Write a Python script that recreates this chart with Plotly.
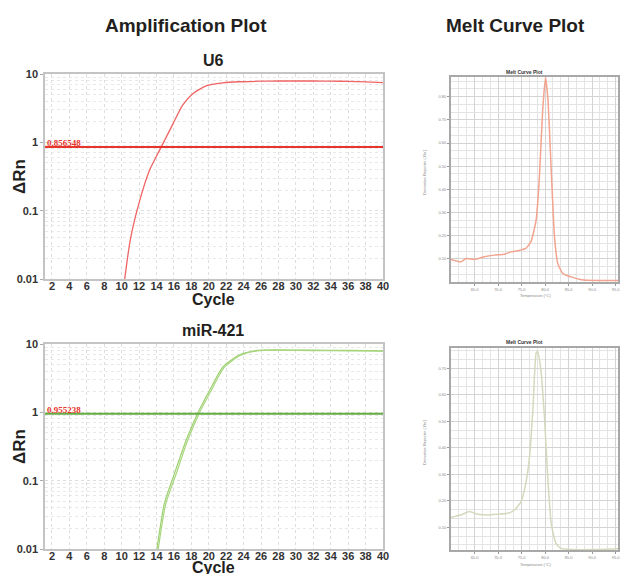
import math
import plotly.graph_objects as go

W, H = 621, 574

# ---------------- data ----------------
u6_cycle = [10.35, 11.0, 12.07, 13.2, 14.55, 15.9, 17.0, 18.2, 19.7, 21.6, 23.5, 26, 28, 30, 32, 34, 36, 38, 40]
u6_rn = [0.01, 0.038, 0.14, 0.39, 0.857, 1.88, 3.5, 5.2, 6.7, 7.4, 7.7, 7.85, 7.9, 7.9, 7.9, 7.85, 7.8, 7.65, 7.5]
u6_threshold = 0.856548

mir_cycle_a = [14.05, 14.9, 16.07, 17.4, 18.7, 20.1, 21.6, 23.5, 25.4, 27.7, 30, 34, 38, 40]
mir_rn_a = [0.01, 0.046, 0.128, 0.39, 0.955, 2.1, 4.6, 6.9, 8.0, 8.2, 8.15, 8.1, 8.0, 7.95]
mir_cycle_b = [14.2, 15.05, 16.25, 17.55, 18.85, 20.25, 21.75, 23.6, 25.5, 27.8, 30, 34, 38, 40]
mir_rn_b = [0.01, 0.045, 0.125, 0.38, 0.94, 2.05, 4.5, 6.8, 7.9, 8.1, 8.05, 8.0, 7.9, 7.85]
mir_threshold = 0.955238

cycle_ticks = list(range(2, 41, 2))
rn_ticks = [0.01, 0.1, 1, 10]
rn_tick_labels = ["0.01", "0.1", "1", "10"]

melt_u6_temp = [60, 62.1, 63.2, 65, 67.1, 69.2, 71.3, 72.8, 74.2, 75.9, 77, 78.1, 78.8, 79.5, 80.1,
                80.6, 81.3, 82, 82.7, 83.8, 85.5, 87.7, 91.2, 95.5]
melt_u6_val = [0.97, 0.87, 1.01, 0.97, 1.09, 1.16, 1.2, 1.3, 1.35, 1.45, 1.74, 2.68, 4.57, 7.46, 8.84,
               7.9, 4.86, 1.96, 0.8, 0.36, 0.22, 0.1, 0.07, 0.07]
melt_mir_temp = [60, 62.1, 63.9, 65.7, 67.8, 69.9, 72.1, 73.5, 74.9, 75.9, 76.7, 77.4, 78.1, 78.4, 79.1,
                 79.9, 80.6, 81.3, 82.3, 83.4, 85.5, 90.5, 95.5]
melt_mir_val = [1.37, 1.46, 1.59, 1.49, 1.46, 1.49, 1.53, 1.65, 1.97, 2.66, 3.67, 5.43, 7.58, 7.64, 6.95,
                5.06, 2.79, 1.15, 0.39, 0.2, 0.16, 0.16, 0.19]
melt_temp_ticks = [65, 70, 75, 80, 85, 90, 95]
melt_u6_ticks = [1, 2, 3, 4, 5, 6, 7, 8]
melt_mir_ticks = [1, 2, 3, 4, 5, 6, 7]


def px(x):
    return x / W


def py(y):
    return 1 - y / H


FONT = "Liberation Sans, Arial, sans-serif"

fig = go.Figure()

# amplification curves
fig.add_trace(go.Scatter(x=u6_cycle, y=u6_rn, mode="lines", line=dict(color="#f06464", width=1.3, shape="spline", smoothing=0.6),
                         xaxis="x", yaxis="y", showlegend=False, hoverinfo="skip"))
fig.add_trace(go.Scatter(x=mir_cycle_a, y=mir_rn_a, mode="lines", line=dict(color="#9cd070", width=1.2, shape="spline", smoothing=0.6),
                         xaxis="x2", yaxis="y2", showlegend=False, hoverinfo="skip"))
fig.add_trace(go.Scatter(x=mir_cycle_b, y=mir_rn_b, mode="lines", line=dict(color="#a8d67e", width=1.2, shape="spline", smoothing=0.6),
                         xaxis="x2", yaxis="y2", showlegend=False, hoverinfo="skip"))

# melt curves
fig.add_trace(go.Scatter(x=melt_u6_temp, y=melt_u6_val, mode="lines", line=dict(color="#f3a48e", width=1.5, shape="spline", smoothing=0.5),
                         xaxis="x3", yaxis="y3", showlegend=False, hoverinfo="skip"))
fig.add_trace(go.Scatter(x=melt_mir_temp, y=melt_mir_val, mode="lines", line=dict(color="#d3d9bc", width=1.5, shape="spline", smoothing=0.5),
                         xaxis="x4", yaxis="y4", showlegend=False, hoverinfo="skip"))

amp_x = [px(45), px(383)]
amp_top_y = [py(279), py(74)]
amp_bot_y = [py(549), py(344)]
melt_x = [px(451), px(618)]
melt_top_y = [py(282), py(77)]
melt_bot_y = [py(550), py(348)]

minor_vals = [m * 10 ** e for e in (-2, -1, 0) for m in range(2, 10)]

def amp_xaxis(dom, anchor):
    return dict(domain=dom, anchor=anchor, range=[1.2, 40], tickvals=cycle_ticks,
                ticktext=[str(c) for c in cycle_ticks],
                tickfont=dict(family=FONT, size=11, color="#333333", weight="bold"),
                ticklabelstandoff=-4,
                showgrid=True, gridcolor="#dedede", griddash="dot", gridwidth=1,
                showline=True, mirror=True, linecolor="#c4c4c4", linewidth=1.5,
                ticks="", zeroline=False, fixedrange=True, automargin=False)

def amp_yaxis(dom, anchor):
    return dict(domain=dom, anchor=anchor, type="log", range=[-2, 1], tickvals=rn_ticks,
                ticktext=rn_tick_labels,
                tickfont=dict(family=FONT, size=11, color="#333333", weight="bold"),
                showgrid=True, gridcolor="#dedede", griddash="dot", gridwidth=1,
                minor=dict(tickvals=minor_vals, showgrid=True, gridcolor="#e8e8e8", griddash="dot", ticks=""),
                showline=True, mirror=True, linecolor="#c4c4c4", linewidth=1.5,
                ticks="outside", ticklen=3, tickcolor="#aaaaaa", zeroline=False, fixedrange=True, automargin=False)

def melt_xaxis(dom, anchor):
    return dict(domain=dom, anchor=anchor, range=[60, 95.5], tickvals=melt_temp_ticks,
                ticktext=[f"{t}.0" for t in melt_temp_ticks],
                tickfont=dict(family=FONT, size=4, color="#888888"),
                showgrid=True, gridcolor="#d4d4d4", gridwidth=0.8,
                minor=dict(dtick=5 / 3, showgrid=True, gridcolor="#e4e4e4", gridwidth=0.6),
                showline=True, mirror=True, linecolor="#a8a8a8", linewidth=1.8,
                ticks="outside", ticklen=2, tickcolor="#999999", zeroline=False, fixedrange=True, automargin=False)

def melt_yaxis(dom, anchor, rng, tv):
    return dict(domain=dom, anchor=anchor, range=rng, tickvals=tv,
                ticktext=[f"{t/10:.2f}" for t in tv],
                tickfont=dict(family=FONT, size=4, color="#888888"),
                showgrid=True, gridcolor="#d4d4d4", gridwidth=0.8,
                minor=dict(dtick=1 / 3, showgrid=True, gridcolor="#e4e4e4", gridwidth=0.6),
                showline=True, mirror=True, linecolor="#a8a8a8", linewidth=1.8,
                ticks="outside", ticklen=2, tickcolor="#999999", zeroline=False, fixedrange=True, automargin=False)

fig.update_layout(
    width=W, height=H, margin=dict(l=0, r=0, t=0, b=0, pad=0, autoexpand=False),
    paper_bgcolor="white", plot_bgcolor="white", showlegend=False,
    xaxis=amp_xaxis(amp_x, "y"), yaxis=amp_yaxis(amp_top_y, "x"),
    xaxis2=amp_xaxis(amp_x, "y2"), yaxis2=amp_yaxis(amp_bot_y, "x2"),
    xaxis3=melt_xaxis(melt_x, "y3"), yaxis3=melt_yaxis(melt_top_y, "x3", [0, 8.85], melt_u6_ticks),
    xaxis4=melt_xaxis(melt_x, "y4"), yaxis4=melt_yaxis(melt_bot_y, "x4", [0.14, 7.77], melt_mir_ticks),
)

# threshold lines
fig.add_shape(type="line", xref="x domain", yref="y", x0=0, x1=1, y0=u6_threshold, y1=u6_threshold,
              line=dict(color="#e8352c", width=2))
fig.add_shape(type="line", xref="x2 domain", yref="y2", x0=0, x1=1, y0=mir_threshold, y1=mir_threshold,
              line=dict(color="#62ad42", width=2))

annotations = []
def text(x, y, s, size, color="#231f20", bold=True, family=FONT, angle=0, xanchor="center", yanchor="middle"):
    annotations.append(dict(x=px(x), y=py(y), xref="paper", yref="paper", text=s, showarrow=False,
                            font=dict(family=family, size=size, color=color, weight="bold" if bold else "normal"),
                            textangle=angle, xanchor=xanchor, yanchor=yanchor))

text(185.5, 26, "Amplification Plot", 19)
text(515, 26, "Melt Curve Plot", 19)
text(214, 60, "U6", 16)
text(213, 330, "miR-421", 16)
text(214, 299, "Cycle", 16)
text(214, 567, "Cycle", 16)
text(19, 177, "ΔRn", 17, angle=-90)
text(19, 447, "ΔRn", 17, angle=-90)

# threshold labels (log axis: annotation y in log10 units)
annotations.append(dict(x=0.0, y=math.log10(u6_threshold), xref="x domain", yref="y", yanchor="bottom", xanchor="left",
                        text=f"{u6_threshold:.6f}", showarrow=False, yshift=-3,
                        font=dict(family="Liberation Serif, serif", size=9, color="#e8352c", weight="bold")))
annotations.append(dict(x=0.0, y=math.log10(mir_threshold), xref="x2 domain", yref="y2", yanchor="bottom", xanchor="left",
                        text=f"{mir_threshold:.6f}", showarrow=False, yshift=-3,
                        font=dict(family="Liberation Serif, serif", size=9, color="#e8352c", weight="bold")))

# melt small titles / labels
text(524, 72, "Melt Curve Plot", 5, color="#333333")
text(524, 342, "Melt Curve Plot", 5, color="#333333")
text(424, 172, "Derivative Reporter (-Rn')", 4, color="#888888", bold=False, angle=-90)
text(424, 442, "Derivative Reporter (-Rn')", 4, color="#888888", bold=False, angle=-90)
text(535, 295, "Temperature (°C)", 4, color="#888888", bold=False)
text(535, 564, "Temperature (°C)", 4, color="#888888", bold=False)

fig.update_layout(annotations=annotations)

fig.write_html("out.html", config={"displayModeBar": False},
               post_script="document.body.style.margin='0';document.body.style.overflow='hidden';")
